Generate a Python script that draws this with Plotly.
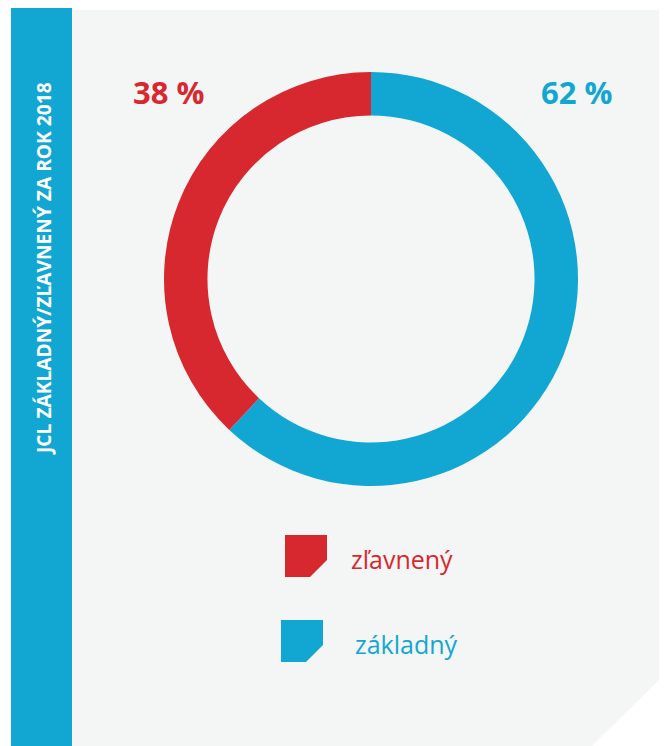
import plotly.graph_objects as go

# ---- data ----
categories = ["základný", "zľavnený"]
values = [62, 38]
percent_labels = ["62 %", "38 %"]
colors = ["#12A7D2", "#D7282F"]
title_text = "JCL ZÁKLADNÝ/ZĽAVNENÝ ZA ROK 2018"

W, H = 667, 746
OFF = 8  # page body margin offset
BG_GREY = "#F4F5F5"


def px(x):
    return (x - OFF) / W


def py(y):
    return 1 - (y - OFF) / H


fig = go.Figure()

fig.add_trace(go.Pie(
    labels=categories,
    values=values,
    hole=0.79,
    sort=False,
    direction="clockwise",
    rotation=0,
    marker=dict(colors=colors, line=dict(width=0)),
    textinfo="none",
    hoverinfo="label+percent",
    showlegend=False,
    domain=dict(x=[px(164), px(578)], y=[py(486), py(72)]),
))

shapes = []
# grey panel with cut corner
shapes.append(dict(
    type="path", xref="paper", yref="paper", layer="below",
    path=f"M {px(72)},{py(10)} L {px(675)},{py(10)} L {px(675)},{py(664)} "
         f"L {px(592)},{py(746)} L {px(580)},{py(760)} L {px(72)},{py(760)} Z",
    fillcolor=BG_GREY, line=dict(width=0),
))
# blue side bar
shapes.append(dict(
    type="rect", xref="paper", yref="paper", layer="below",
    x0=px(11), x1=px(72), y0=py(760), y1=py(8),
    fillcolor=colors[0], line=dict(width=0),
))

# legend markers (square with cut bottom-right corner)
legend_items = [
    (categories[1], colors[1], 285, 535, 349),
    (categories[0], colors[0], 281, 620, 353),
]
annotations = []
s = 42
c = 17
for name, col, x0, y0, tx in legend_items:
    shapes.append(dict(
        type="path", xref="paper", yref="paper", layer="below",
        path=f"M {px(x0)},{py(y0)} L {px(x0+s)},{py(y0)} L {px(x0+s)},{py(y0+s-c)} "
             f"L {px(x0+s-c)},{py(y0+s)} L {px(x0)},{py(y0+s)} Z",
        fillcolor=col, line=dict(width=0),
    ))
    annotations.append(dict(
        text=name, xref="paper", yref="paper", x=px(tx), y=py(y0 + s / 2 + 3),
        xanchor="left", yanchor="middle", showarrow=False,
        font=dict(family="Open Sans", size=25, color=col),
    ))

# percentage labels
annotations.append(dict(
    text=f"<b>{percent_labels[1]}</b>", xref="paper", yref="paper",
    x=px(168), y=py(92), xanchor="center", yanchor="middle", showarrow=False,
    font=dict(family="Open Sans", size=31, color=colors[1]),
))
annotations.append(dict(
    text=f"<b>{percent_labels[0]}</b>", xref="paper", yref="paper",
    x=px(576), y=py(92), xanchor="center", yanchor="middle", showarrow=False,
    font=dict(family="Open Sans", size=31, color=colors[0]),
))

# vertical title
annotations.append(dict(
    text=f"<b>{title_text}</b>", xref="paper", yref="paper",
    x=px(43), y=py(269), xanchor="center", yanchor="middle", showarrow=False,
    textangle=-90,
    font=dict(family="Open Sans", size=19.2, color="white"),
))

fig.update_layout(
    width=W, height=H,
    margin=dict(l=0, r=0, t=0, b=0),
    paper_bgcolor="white",
    plot_bgcolor="white",
    shapes=shapes,
    annotations=annotations,
    showlegend=False,
)

fig.write_html("out.html")
